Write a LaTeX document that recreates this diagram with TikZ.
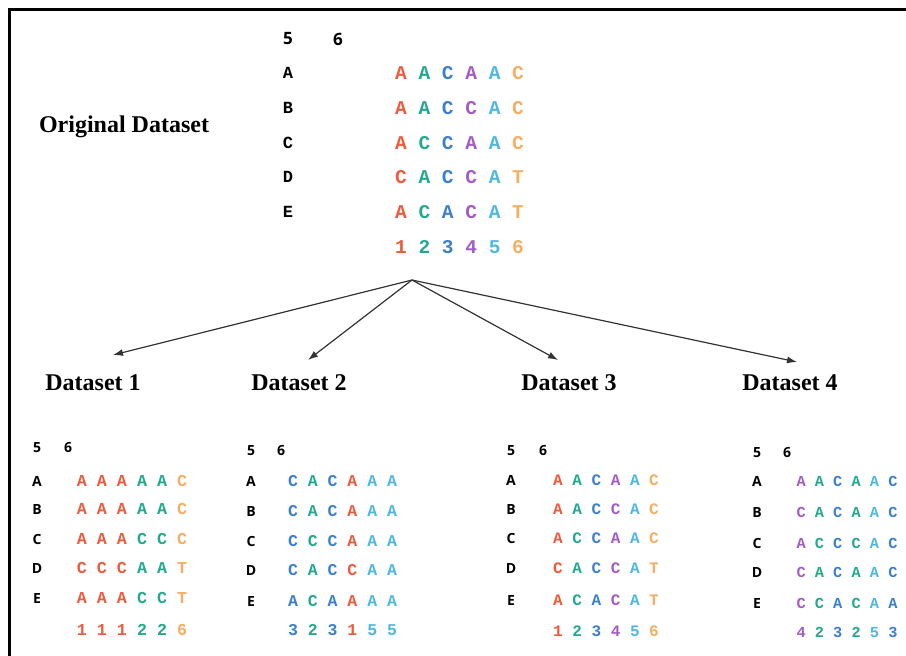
\documentclass[tikz,border=0pt]{standalone}
\usepackage{fontspec}
\setmainfont{Liberation Serif}
\setsansfont{Open Sans}
\setmonofont{Liberation Mono}
\usepackage{tikz}
\usetikzlibrary{arrows.meta}

\definecolor{site1}{HTML}{EE5A3C}
\definecolor{site2}{HTML}{22A98E}
\definecolor{site3}{HTML}{3A80CF}
\definecolor{site4}{HTML}{A45CC5}
\definecolor{site5}{HTML}{4DB8E2}
\definecolor{site6}{HTML}{F5AE62}
\newcommand{\nt}[2]{\textcolor{site#1}{#2}}

\tikzset{
    dstitle/.style={font=\fontsize{24}{28}\selectfont\bfseries},
    origlbl/.style={font=\ttfamily\bfseries\fontsize{17}{20}\selectfont},
    origseq/.style={font=\ttfamily\bfseries\fontsize{19.5}{22}\selectfont},
    lbl/.style={font=\sffamily\bfseries\fontsize{14}{16}\selectfont},
    biglbl/.style={font=\sffamily\bfseries\fontsize{17}{20}\selectfont},
    seq/.style={font=\ttfamily\bfseries\fontsize{#1}{20}\selectfont},
    flow/.style={draw=black!80, line width=1.2pt, -{Latex[length=10pt,width=7pt]}}
}

\begin{document}
\begin{tikzpicture}[x=1pt, y=-1pt, inner sep=0pt]
            \useasboundingbox (0,0) rectangle (906,656);

            %frame
            \draw[line width=3pt] (9.5,656) -- (9.5,9.5) -- (906,9.5);

            %original dataset
            \node[dstitle] (orig) at (124,127) {Original Dataset};
            \node[biglbl] (o5) at (288,39) {5};
            \node[biglbl] (o6) at (338,39) {6};
            \node[origlbl] (oA) at (288,73) {A};
            \node[origlbl] (oB) at (288,108) {B};
            \node[origlbl] (oC) at (288,143) {C};
            \node[origlbl] (oD) at (288,177) {D};
            \node[origlbl] (oE) at (288,212) {E};
            \node[origseq] (osA) at (459.5,73) {\nt1A \nt2A \nt3C \nt4A \nt5A \nt6C};
            \node[origseq] (osB) at (459.5,108) {\nt1A \nt2A \nt3C \nt4C \nt5A \nt6C};
            \node[origseq] (osC) at (459.5,143) {\nt1A \nt2C \nt3C \nt4A \nt5A \nt6C};
            \node[origseq] (osD) at (459.5,177) {\nt1C \nt2A \nt3C \nt4C \nt5A \nt6T};
            \node[origseq] (osE) at (459.5,212) {\nt1A \nt2C \nt3A \nt4C \nt5A \nt6T};
            \node[origseq] (onum) at (459.5,247) {\nt11 \nt22 \nt33 \nt44 \nt55 \nt66};

            %splits
            \coordinate (split) at (412,280);
            \coordinate (tip1) at (113,355);
            \coordinate (tip2) at (308,360);
            \coordinate (tip3) at (558,360);
            \coordinate (tip4) at (797,362);
            \draw[flow] (split) -- (tip1);
            \draw[flow] (split) -- (tip2);
            \draw[flow] (split) -- (tip3);
            \draw[flow] (split) -- (tip4);

            \node[dstitle] (ds1) at (93,383) {Dataset 1};
            \node[dstitle] (ds2) at (299,383) {Dataset 2};
            \node[dstitle] (ds3) at (569,383) {Dataset 3};
            \node[dstitle] (ds4) at (790,383) {Dataset 4};

            %dataset 1
            \node[lbl] (d1l5) at (37,448) {5};
            \node[lbl] (d1l6) at (68,448) {6};
            \node[lbl] (d1lA) at (37,481) {A};
            \node[lbl] (d1lB) at (37,509) {B};
            \node[lbl] (d1lC) at (37,539) {C};
            \node[lbl] (d1lD) at (37,568) {D};
            \node[lbl] (d1lE) at (37,598) {E};
            \node[seq=16.7] (d1sA) at (132,481) {\nt1A \nt1A \nt1A \nt2A \nt2A \nt6C};
            \node[seq=16.7] (d1sB) at (132,509) {\nt1A \nt1A \nt1A \nt2A \nt2A \nt6C};
            \node[seq=16.7] (d1sC) at (132,539) {\nt1A \nt1A \nt1A \nt2C \nt2C \nt6C};
            \node[seq=16.7] (d1sD) at (132,568) {\nt1C \nt1C \nt1C \nt2A \nt2A \nt6T};
            \node[seq=16.7] (d1sE) at (132,598) {\nt1A \nt1A \nt1A \nt2C \nt2C \nt6T};
            \node[seq=16.7] (d1num) at (132,630) {\nt11 \nt11 \nt11 \nt22 \nt22 \nt66};

            %dataset 2
            \node[lbl] (d2l5) at (251,451) {5};
            \node[lbl] (d2l6) at (281,451) {6};
            \node[lbl] (d2lA) at (251,481) {A};
            \node[lbl] (d2lB) at (251,511) {B};
            \node[lbl] (d2lC) at (251,541) {C};
            \node[lbl] (d2lD) at (251,570) {D};
            \node[lbl] (d2lE) at (251,601) {E};
            \node[seq=16.5] (d2sA) at (342.5,481) {\nt3C \nt2A \nt3C \nt1A \nt5A \nt5A};
            \node[seq=16.5] (d2sB) at (342.5,511) {\nt3C \nt2A \nt3C \nt1A \nt5A \nt5A};
            \node[seq=16.5] (d2sC) at (342.5,541) {\nt3C \nt2C \nt3C \nt1A \nt5A \nt5A};
            \node[seq=16.5] (d2sD) at (342.5,570) {\nt3C \nt2A \nt3C \nt1C \nt5A \nt5A};
            \node[seq=16.5] (d2sE) at (342.5,601) {\nt3A \nt2C \nt3A \nt1A \nt5A \nt5A};
            \node[seq=16.5] (d2num) at (342.5,630) {\nt33 \nt22 \nt33 \nt11 \nt55 \nt55};

            %dataset 3
            \node[lbl] (d3l5) at (511,451) {5};
            \node[lbl] (d3l6) at (543,451) {6};
            \node[lbl] (d3lA) at (511,480) {A};
            \node[lbl] (d3lB) at (511,509) {B};
            \node[lbl] (d3lC) at (511,538) {C};
            \node[lbl] (d3lD) at (511,568) {D};
            \node[lbl] (d3lE) at (511,600) {E};
            \node[seq=16] (d3sA) at (606,480) {\nt1A \nt2A \nt3C \nt4A \nt5A \nt6C};
            \node[seq=16] (d3sB) at (606,509) {\nt1A \nt2A \nt3C \nt4C \nt5A \nt6C};
            \node[seq=16] (d3sC) at (606,538) {\nt1A \nt2C \nt3C \nt4A \nt5A \nt6C};
            \node[seq=16] (d3sD) at (606,568) {\nt1C \nt2A \nt3C \nt4C \nt5A \nt6T};
            \node[seq=16] (d3sE) at (606,600) {\nt1A \nt2C \nt3A \nt4C \nt5A \nt6T};
            \node[seq=16] (d3num) at (606,631) {\nt11 \nt22 \nt33 \nt44 \nt55 \nt66};

            %dataset 4
            \node[lbl] (d4l5) at (757,453) {5};
            \node[lbl] (d4l6) at (787,453) {6};
            \node[lbl] (d4lA) at (757,481) {A};
            \node[lbl] (d4lB) at (757,512) {B};
            \node[lbl] (d4lC) at (757,543) {C};
            \node[lbl] (d4lD) at (757,572) {D};
            \node[lbl] (d4lE) at (757,603) {E};
            \node[seq=15.3] (d4sA) at (847,481) {\nt4A \nt2A \nt3C \nt2A \nt5A \nt3C};
            \node[seq=15.3] (d4sB) at (847,512) {\nt4C \nt2A \nt3C \nt2A \nt5A \nt3C};
            \node[seq=15.3] (d4sC) at (847,543) {\nt4A \nt2C \nt3C \nt2C \nt5A \nt3C};
            \node[seq=15.3] (d4sD) at (847,572) {\nt4C \nt2A \nt3C \nt2A \nt5A \nt3C};
            \node[seq=15.3] (d4sE) at (847,603) {\nt4C \nt2C \nt3A \nt2C \nt5A \nt3A};
            \node[seq=15.3] (d4num) at (847,632) {\nt44 \nt22 \nt33 \nt22 \nt55 \nt33};
        \end{tikzpicture}
\end{document}
